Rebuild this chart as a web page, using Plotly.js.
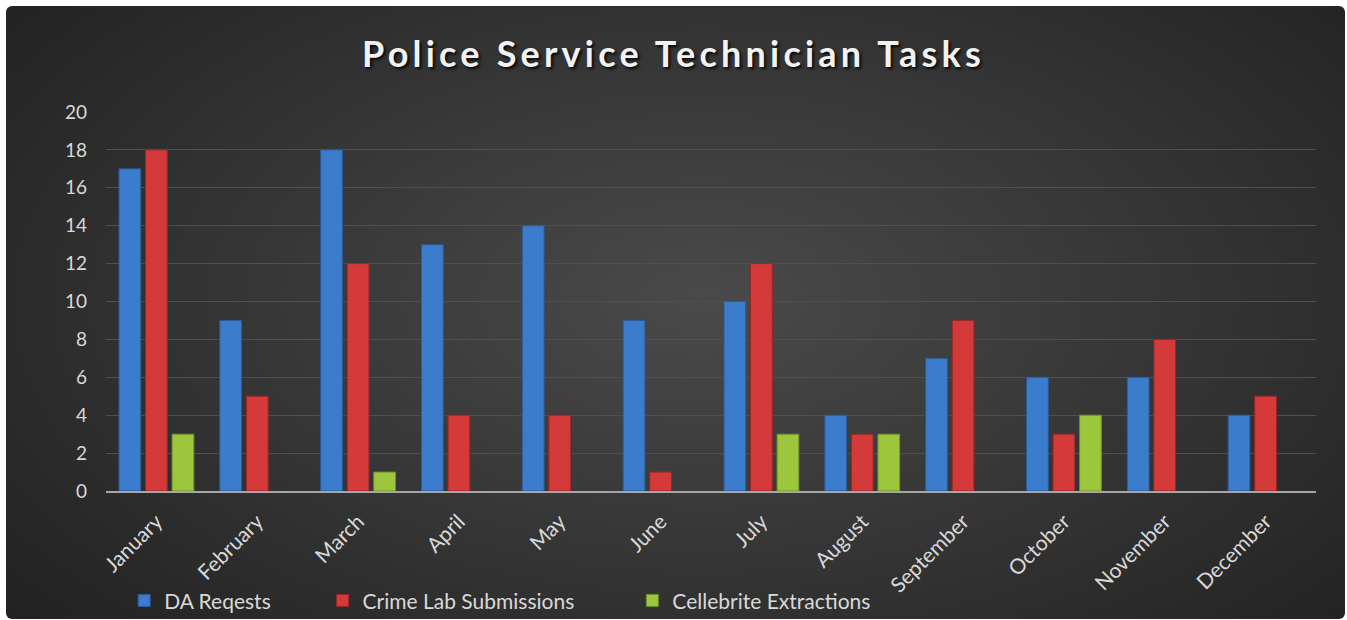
<!DOCTYPE html>
<html>
<head>
<meta charset="utf-8">
<script src="https://cdn.plot.ly/plotly-3.0.1.min.js"></script>
<style>
  html, body { margin: 0; padding: 0; background: #ffffff; }
  #wrap { position: relative; width: 1347px; height: 620px; overflow: hidden; }
  #bg { position: absolute; left: 6px; top: 6px; width: 1339px; height: 613px; border-radius: 6px;
        background: radial-gradient(ellipse 75% 90% at 52% 48%, #4a4a4a 0%, #363636 45%, #262626 80%, #1e1e1e 100%); }
  #chart { position: absolute; left: 0; top: 0; width: 1347px; height: 620px; }
  .gtitle { letter-spacing: 4.2px; }
</style>
</head>
<body>
<div id="wrap"><div id="bg"></div><div id="chart"></div></div>
<script>
const months = ["January","February","March","April","May","June","July","August","September","October","November","December"];
const daRequests = [17, 9, 18, 13, 14, 9, 10, 4, 7, 6, 6, 4];
const crimeLab = [18, 5, 12, 4, 4, 1, 12, 3, 9, 3, 8, 5];
const cellebrite = [3, 0, 1, 0, 0, 0, 3, 3, 0, 4, 0, 0];
const seriesNames = ["DA Reqests", "Crime Lab Submissions", "Cellebrite Extractions"];
const yTicks = [0, 2, 4, 6, 8, 10, 12, 14, 16, 18, 20];

const colors = ["#3b7ccc", "#d43a3a", "#9cc63c"];
const lines = ["#2a5a99", "#9a2626", "#6f8f26"];
const legendNames = ["legend", "legend2", "legend3"];
const allData = [daRequests, crimeLab, cellebrite];

const traces = allData.map((vals, i) => ({
  type: "bar",
  name: seriesNames[i],
  x: months,
  y: vals,
  legend: legendNames[i],
  marker: { color: colors[i], line: { color: lines[i], width: vals.map(v => v > 0 ? 1 : 0) } },
  hoverinfo: "x+y+name"
}));

const legendFont = { family: "Lato, 'Open Sans', sans-serif", size: 21, color: "#d9d9d9" };
const legendBase = { orientation: "h", yref: "container", yanchor: "middle", y: 0.031, xanchor: "left",
  bgcolor: "rgba(0,0,0,0)", font: legendFont, itemclick: false, itemdoubleclick: false };

const layout = {
  width: 1347, height: 620,
  paper_bgcolor: "rgba(0,0,0,0)",
  plot_bgcolor: "rgba(0,0,0,0)",
  margin: { l: 106, r: 31, t: 112, b: 129, autoexpand: false },
  title: {
    text: "<b>Police Service Technician Tasks</b>",
    x: 0.5, xanchor: "center", y: 0.912, yanchor: "middle",
    font: { family: "Lato, 'Open Sans', sans-serif", size: 36, color: "#f2f2f2",
            shadow: "2px 2px 3px rgba(0,0,0,0.85)" }
  },
  barmode: "group",
  bargap: 0.21,
  bargroupgap: 0.18,
  showlegend: true,
  legend: Object.assign({}, legendBase, { x: 0.015 }),
  legend2: Object.assign({}, legendBase, { x: 0.179 }),
  legend3: Object.assign({}, legendBase, { x: 0.435 }),
  xaxis: {
    tickangle: -45,
    tickfont: { family: "Lato, 'Open Sans', sans-serif", size: 21, color: "#d9d9d9" },
    showgrid: false,
    showline: true, linecolor: "#a6a6a6", linewidth: 2,
    ticks: "", zeroline: false, automargin: false,
    ticklabelstandoff: 8,
    fixedrange: true
  },
  yaxis: {
    range: [0, 20],
    tickvals: yTicks,
    ticktext: yTicks.map(String),
    tickfont: { family: "Lato, 'Open Sans', sans-serif", size: 19, color: "#d9d9d9" },
    showgrid: true, gridcolor: "#505050", gridwidth: 1,
    zeroline: false, showline: false, ticks: "", automargin: false,
    ticklabelstandoff: 18,
    fixedrange: true
  }
};

Plotly.newPlot("chart", traces, layout, { displayModeBar: false });
</script>
</body>
</html>
